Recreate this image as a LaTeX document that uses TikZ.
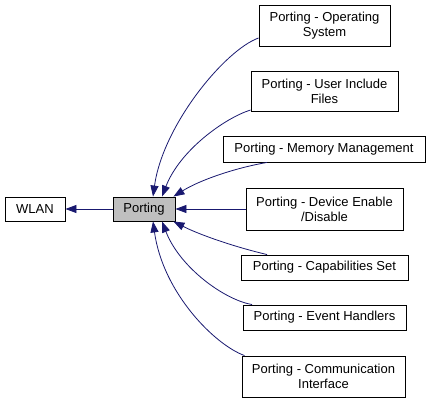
\documentclass[tikz,border=0pt]{standalone}
\usepackage{fontspec}
\setmainfont{Liberation Sans}
\usetikzlibrary{arrows.meta}
\definecolor{linkblue}{HTML}{191970}
\definecolor{curgray}{HTML}{BFBFBF}

\begin{document}
\begin{tikzpicture}[
    x=1pt, y=-1pt,
    every node/.style={draw,line width=0.9pt,align=center,inner sep=0pt,
        font=\fontsize{13}{15}\selectfont},
    group/.style={minimum width=#1},
    curgroup/.style={fill=curgray},
    link/.style={draw=linkblue,line width=0.8pt,-{Triangle[length=11pt,width=8pt]}}
]
\useasboundingbox (0,0) rectangle (431,403);
\node[group=60pt,minimum height=24pt] (wlan) at (35,209) {WLAN};
\node[group=62pt,minimum height=24pt,curgroup] (porting) at (144,209) {Porting};
\node[group=131pt,minimum height=41pt] (os) at (324.5,25.5) {Porting - Operating\\System};
\node[group=147pt,minimum height=40pt] (uif) at (324.5,91) {Porting - User Include\\Files};
\node[group=202pt,minimum height=26pt] (mem) at (324,149) {Porting - Memory Management};
\node[group=157pt,minimum height=42pt] (dev) at (324.5,209) {Porting - Device Enable\\/Disable};
\node[group=167pt,minimum height=25pt] (cap) at (324.5,267.5) {Porting - Capabilities Set};
\node[group=163pt,minimum height=25pt] (evt) at (324.5,317.5) {Porting - Event Handlers};
\node[group=163pt,minimum height=41pt] (com) at (323.5,376.5) {Porting - Communication\\Interface};

\draw[link] (porting) -- (wlan);
\draw[link] ([yshift=-12.5pt]os.west) .. controls (225,50) and (163,125) .. ([xshift=9pt]porting.north);
\draw[link] ([yshift=-19pt]uif.west) .. controls (225,118) and (180,150) .. ([xshift=18pt]porting.north);
\draw[link] ([xshift=-57pt]mem.south) .. controls (235,168) and (200,180) .. ([xshift=-2pt]porting.north east);
\draw[link] (dev) -- (porting);
\draw[link] ([xshift=-57.5pt]cap.north) .. controls (235,247) and (200,235) .. ([xshift=-2pt]porting.south east);
\draw[link] ([xshift=-72.5pt]evt.north) .. controls (225,300) and (180,268) .. ([xshift=18pt]porting.south);
\draw[link] ([xshift=3pt]com.north west) .. controls (215,345) and (163,293) .. ([xshift=9pt]porting.south);
\end{tikzpicture}
\end{document}
